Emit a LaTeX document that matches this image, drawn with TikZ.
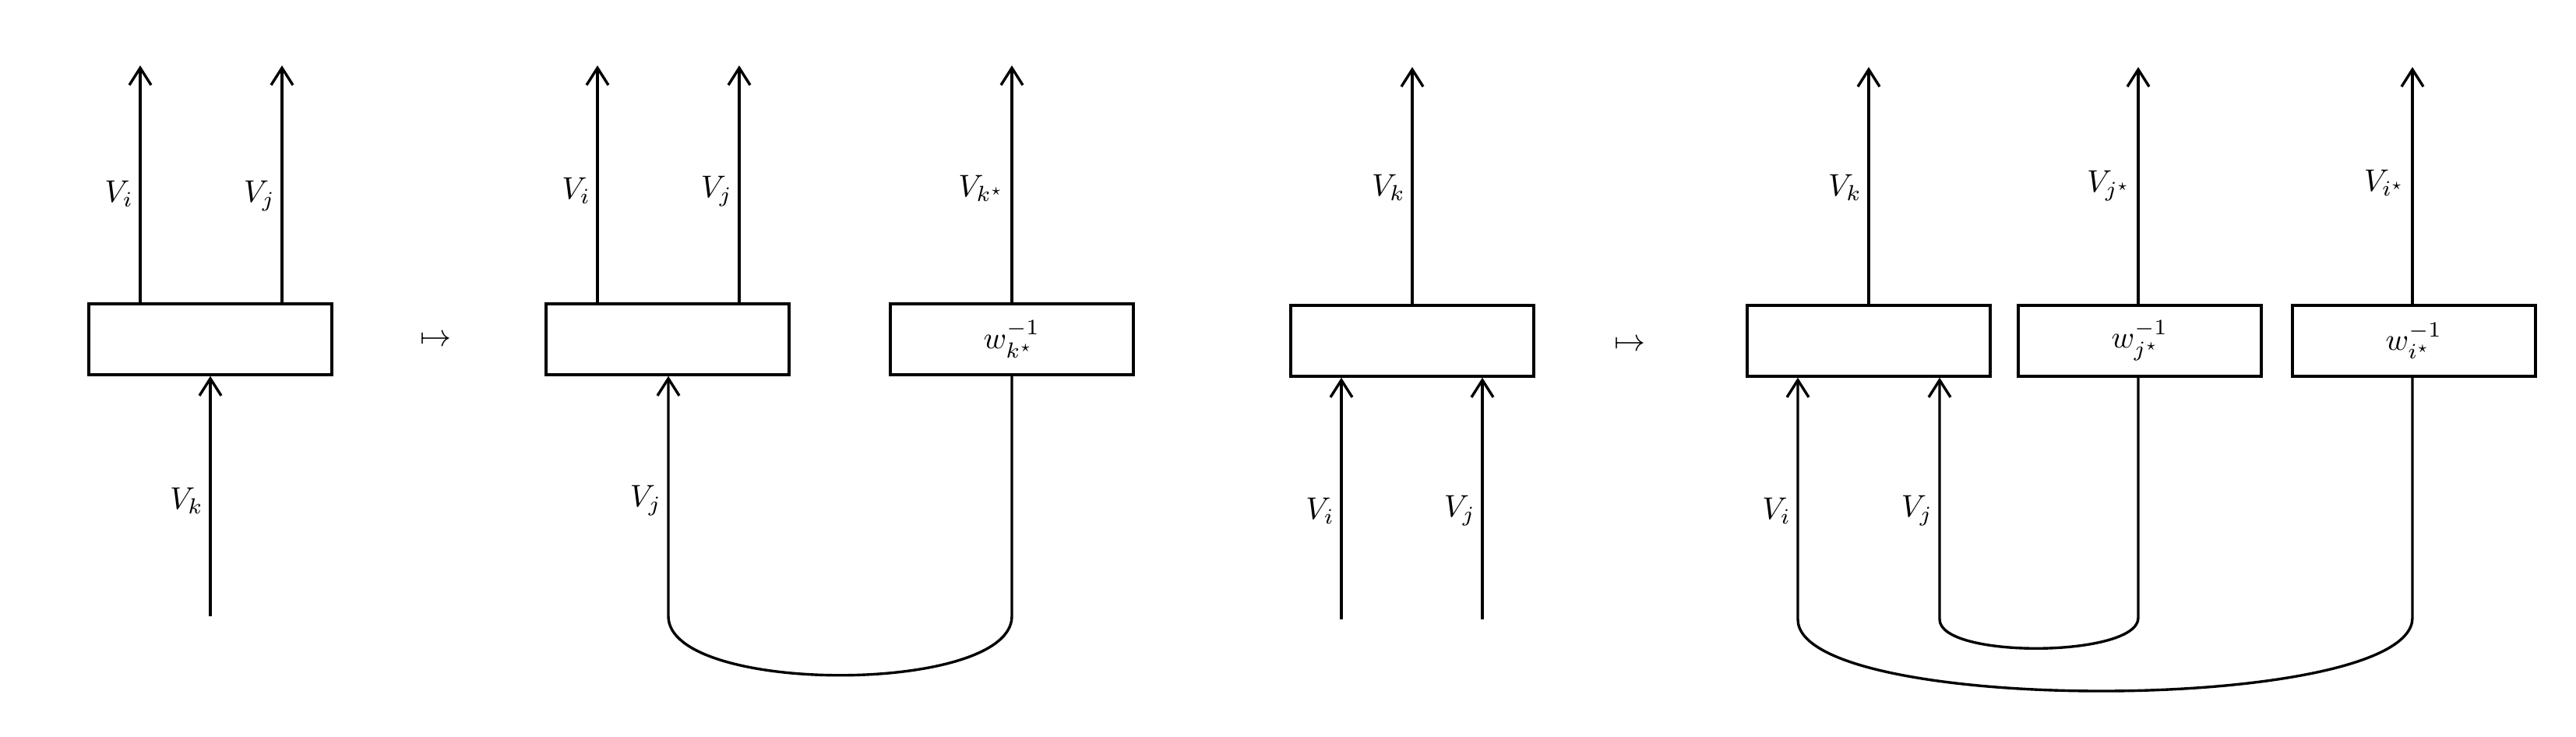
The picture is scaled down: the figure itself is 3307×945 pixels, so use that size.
\documentclass[tikz,border=0pt]{standalone}
\usetikzlibrary{arrows.meta}
\begin{document}
\begin{tikzpicture}[x=0.25pt,y=-0.25pt, line width=0.85pt,
  box/.style={draw, minimum width=78pt, minimum height=22.75pt, inner sep=0pt},
  arr/.style={-{Straight Barb[length=5.5pt,width=7pt]}},
  lab/.style={left, inner sep=1.8pt}]
\useasboundingbox (0,0) rectangle (3307,945);

% ---------- panel 1 ----------
\node[box] (A) at (270,435.5) {};
\coordinate (A1) at (180,84);
\coordinate (A2) at (362,84);
\coordinate (A3) at (270,791);
\draw[arr] (A.north -| A1) -- node[lab,pos=0.46] {$V_i$} (A1);
\draw[arr] (A.north -| A2) -- node[lab,pos=0.45] {$V_j$} (A2);
\draw[arr] (A3) -- node[lab,pos=0.48] {$V_k$} (A.south);
\node (m1) at (559,437) {$\mapsto$};

% ---------- panel 2 ----------
\node[box] (B) at (857,435.5) {};
\node[box] (C) at (1299,435.5) {$w_{k^\star}^{-1}$};
\coordinate (B1) at (767,84);
\coordinate (B2) at (949,84);
\coordinate (C1) at (1299,84);
\coordinate (B3) at (858,791);
\coordinate (C3) at (1299,791);
\draw[arr] (B.north -| B1) -- node[lab,pos=0.47] {$V_i$} (B1);
\draw[arr] (B.north -| B2) -- node[lab,pos=0.47] {$V_j$} (B2);
\draw[arr] (C.north) -- node[lab,pos=0.48] {$V_{k^\star}$} (C1);
\draw[arr] (C.south) -- (C3) .. controls (1299,892) and (858,892) .. (B3)
   -- node[lab,pos=0.48] {$V_j$} (B.south -| B3);

% ---------- panel 3 ----------
\node[box] (D) at (1813,437.5) {};
\coordinate (D1) at (1813,86);
\coordinate (D2) at (1722,795);
\coordinate (D3) at (1903,795);
\draw[arr] (D.north) -- node[lab,pos=0.49] {$V_k$} (D1);
\draw[arr] (D2) -- node[lab,pos=0.45] {$V_i$} (D.south -| D2);
\draw[arr] (D3) -- node[lab,pos=0.45] {$V_j$} (D.south -| D3);
\node (m2) at (2092,443) {$\mapsto$};

% ---------- panel 4 ----------
\node[box] (E) at (2399,437.5) {};
\node[box] (F) at (2747,437.5) {$w_{j^\star}^{-1}$};
\node[box] (G) at (3099,437.5) {$w_{i^\star}^{-1}$};
\coordinate (E1) at (2399,86);
\coordinate (F1) at (2745,86);
\coordinate (G1) at (3097,86);
\coordinate (E2) at (2308,795);
\coordinate (E3) at (2490,795);
\coordinate (F3) at (2745,793);
\coordinate (G3) at (3097,793);
\draw[arr] (E.north) -- node[lab,pos=0.49] {$V_k$} (E1);
\draw[arr] (F.north -| F1) -- node[lab,pos=0.50] {$V_{j^\star}$} (F1);
\draw[arr] (G.north -| G1) -- node[lab,pos=0.51] {$V_{i^\star}$} (G1);
\draw[arr] (F.south -| F3) -- (F3) .. controls (2745,844) and (2490,846) .. (E3)
   -- node[lab,pos=0.45] {$V_j$} (E.south -| E3);
\draw[arr] (G.south -| G3) -- (G3) .. controls (3097,917) and (2308,919) .. (E2)
   -- node[lab,pos=0.45] {$V_i$} (E.south -| E2);
\end{tikzpicture}
\end{document}
